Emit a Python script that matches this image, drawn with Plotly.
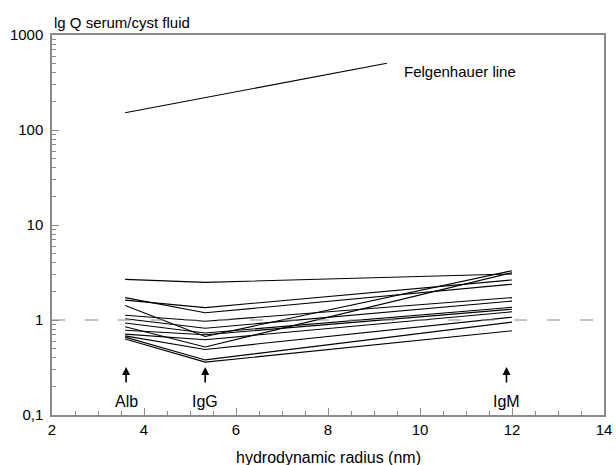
import numpy as np
import plotly.graph_objects as go

# x positions (hydrodynamic radius, nm) of the three proteins
protein_names = ["Alb", "IgG", "IgM"]
protein_x = [3.59, 5.33, 12.0]
arrow_x = [3.61, 5.33, 11.88]

# Q serum / cyst fluid per patient (Alb, IgG, IgM)
q_alb = [2.68, 1.62, 1.72, 1.12, 1.03, 0.93, 0.78, 0.71, 0.68, 0.66, 0.63, 1.42, 0.85]
q_igg = [2.49, 1.35, 1.19, 0.97, 0.82, 0.73, 0.70, 0.62, 0.49, 0.38, 0.36, 0.67, 0.52]
q_igm = [3.05, 2.64, 2.38, 1.72, 1.58, 1.36, 1.30, 1.22, 1.07, 0.95, 0.77, 3.30, 3.15]

# Felgenhauer line
felg_x = [3.59, 9.28]
felg_y = [152, 504]

x_ticks = [2, 4, 6, 8, 10, 12, 14]
y_tickvals = [0.1, 1, 10, 100, 1000]
y_ticktext = ["0,1", "1", "10", "100", "1000"]

FONT = "Liberation Sans, Arial, Helvetica, sans-serif"
AX = "#8a8a8a"

fig = go.Figure()

for a, g, m in zip(q_alb, q_igg, q_igm):
    fig.add_trace(go.Scatter(x=protein_x, y=[a, g, m], mode="lines",
                             line=dict(color="black", width=1.1),
                             showlegend=False, hoverinfo="skip"))

fig.add_trace(go.Scatter(x=felg_x, y=felg_y, mode="lines",
                         line=dict(color="black", width=1.1),
                         showlegend=False, hoverinfo="skip"))

# dashed reference line at Q = 1
fig.add_trace(go.Scatter(x=[2, 14], y=[1, 1], mode="lines",
                         line=dict(color=AX, width=1, dash="13px,20px"),
                         showlegend=False, hoverinfo="skip"))

minor_y = []
for d in [0.1, 1, 10, 100]:
    for k in range(2, 10):
        minor_y.append(d * k)

ann = []
for name, xa in zip(protein_names, arrow_x):
    ann.append(dict(x=xa, y=np.log10(0.32), xref="x", yref="y", text="",
                    showarrow=True, arrowhead=2, arrowsize=1, arrowwidth=1.6,
                    arrowcolor="black", ax=0, ay=17))
    ann.append(dict(x=xa, y=np.log10(0.138), xref="x", yref="y", text=name,
                    showarrow=False, font=dict(family=FONT, size=16, color="black"),
                    xanchor="center", yanchor="middle"))

ann.append(dict(x=9.61, y=np.log10(408), xref="x", yref="y", text="Felgenhauer line",
                showarrow=False, xanchor="left", yanchor="middle",
                font=dict(family=FONT, size=15, color="black")))
ann.append(dict(x=0, y=1, xref="paper", yref="paper", text="lg Q serum/cyst fluid",
                showarrow=False, xanchor="left", yanchor="middle", yshift=13,
                font=dict(family=FONT, size=15, color="black")))
ann.append(dict(x=0.5, y=0, xref="paper", yref="paper", text="hydrodynamic radius (nm)",
                showarrow=False, xanchor="center", yanchor="middle", yshift=-42,
                font=dict(family=FONT, size=16, color="black")))

fig.update_layout(
    width=616, height=465,
    margin=dict(l=52, r=12, t=35, b=50),
    paper_bgcolor="white", plot_bgcolor="white",
    font=dict(family=FONT, size=15, color="black"),
    annotations=ann,
    xaxis=dict(range=[2, 14], tickvals=x_ticks, ticks="inside", ticklen=7,
               tickcolor=AX, tickwidth=1, showline=True, linecolor=AX, linewidth=1.5,
               mirror=True, showgrid=False, zeroline=False, automargin=False,
               minor=dict(dtick=0.5, ticks="inside", ticklen=4, tickcolor=AX, showgrid=False),
               tickfont=dict(family=FONT, size=15)),
    yaxis=dict(type="log", range=[-1, 3], tickvals=y_tickvals, ticktext=y_ticktext,
               ticks="inside", ticklen=7, tickcolor=AX, showline=True, linecolor=AX,
               linewidth=1.5, mirror=True, showgrid=False, zeroline=False,
               automargin=False, ticklabelstandoff=4,
               minor=dict(tickvals=minor_y, ticks="inside", ticklen=4, tickcolor=AX,
                          showgrid=False),
               tickfont=dict(family=FONT, size=15)),
)

fig.write_html("out.html", config={"displayModeBar": False},
               post_script="document.body.style.margin='0';document.body.style.overflow='hidden';")
